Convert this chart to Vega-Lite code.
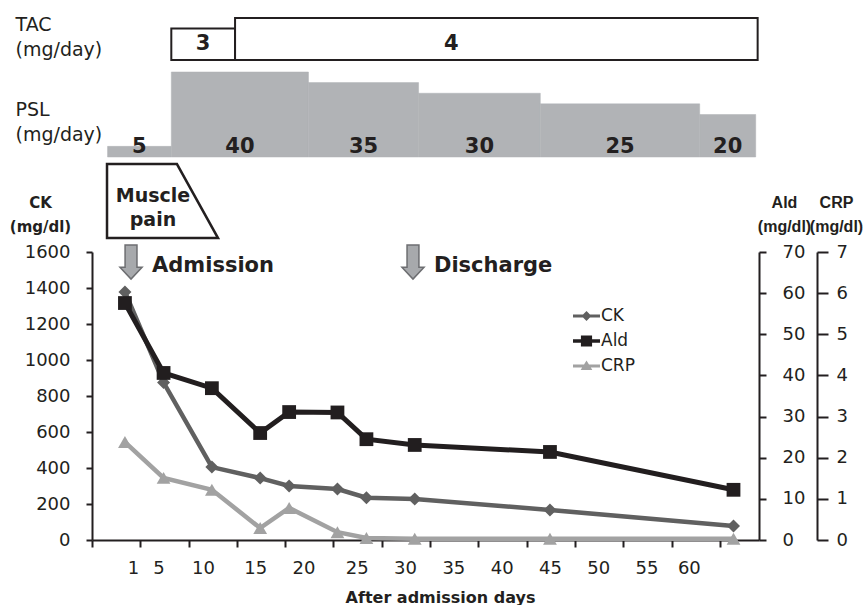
{
  "$schema": "https://vega.github.io/schema/vega-lite/v6.json",
  "width": 667,
  "height": 288,
  "autosize": {"type": "none"},
  "padding": {"left": 92, "top": 252, "right": 104, "bottom": 65},
  "background": "white",
  "config": {
    "font": "DejaVu Sans",
    "view": {"stroke": null},
    "text": {"font": "DejaVu Sans", "color": "#231f20"},
    "axis": {"labelFont": "DejaVu Sans", "titleFont": "DejaVu Sans", "labelColor": "#231f20", "titleColor": "#231f20", "domainColor": "#231f20", "tickColor": "#231f20", "grid": false, "labelFlush": false, "labelOverlap": false}
  },
  "datasets": {
    "labs": [
      {"day": 1, "series": "CK", "value": 1378}, {"day": 5, "series": "CK", "value": 875}, {"day": 10, "series": "CK", "value": 405}, {"day": 15, "series": "CK", "value": 344}, {"day": 18, "series": "CK", "value": 300}, {"day": 23, "series": "CK", "value": 283}, {"day": 26, "series": "CK", "value": 235}, {"day": 31, "series": "CK", "value": 228}, {"day": 45, "series": "CK", "value": 167}, {"day": 64, "series": "CK", "value": 78},
      {"day": 1, "series": "Ald", "value": 57.6}, {"day": 5, "series": "Ald", "value": 40.6}, {"day": 10, "series": "Ald", "value": 36.9}, {"day": 15, "series": "Ald", "value": 26.0}, {"day": 18, "series": "Ald", "value": 31.1}, {"day": 23, "series": "Ald", "value": 31.0}, {"day": 26, "series": "Ald", "value": 24.5}, {"day": 31, "series": "Ald", "value": 23.1}, {"day": 45, "series": "Ald", "value": 21.4}, {"day": 64, "series": "Ald", "value": 12.2},
      {"day": 1, "series": "CRP", "value": 2.38}, {"day": 5, "series": "CRP", "value": 1.51}, {"day": 10, "series": "CRP", "value": 1.22}, {"day": 15, "series": "CRP", "value": 0.29}, {"day": 18, "series": "CRP", "value": 0.78}, {"day": 23, "series": "CRP", "value": 0.19}, {"day": 26, "series": "CRP", "value": 0.05}, {"day": 31, "series": "CRP", "value": 0.03}, {"day": 45, "series": "CRP", "value": 0.03}, {"day": 64, "series": "CRP", "value": 0.03}
    ],
    "psl": [
      {"start": -0.8, "end": 5.8, "dose": 5}, {"start": 5.8, "end": 20, "dose": 40}, {"start": 20, "end": 31.4, "dose": 35}, {"start": 31.4, "end": 44, "dose": 30}, {"start": 44, "end": 60.5, "dose": 25}, {"start": 60.5, "end": 66.3, "dose": 20}
    ],
    "tac": [
      {"start": 5.8, "end": 12.4, "dose": 3}, {"start": 12.4, "end": 66.5, "dose": 4}
    ],
    "events": [
      {"event": "Admission", "day": 1.63}, {"event": "Discharge", "day": 30.82}
    ]
  },
  "layer": [
    {
      "data": {"name": "psl"},
      "mark": {"type": "rect", "fill": "#b1b3b6", "stroke": "#b1b3b6", "strokeWidth": 0.5},
      "encoding": {
        "x": {"field": "start", "type": "quantitative", "scale": {"domain": [-2.41, 66.64], "nice": false, "zero": false}, "axis": null},
        "x2": {"field": "end"},
        "y": {"field": "dose", "type": "quantitative", "scale": {"domain": [-180.24, -44.71], "nice": false, "zero": false},
          "axis": {"orient": "left", "labels": false, "ticks": false, "domain": false, "grid": false, "title": ["PSL", "(mg/day)"], "titleAngle": 0, "titleAlign": "left", "titleBaseline": "alphabetic", "titleX": -77, "titleY": -137, "titleFontSize": 19, "titleFontWeight": "normal", "titleLineHeight": 25}},
        "y2": {"datum": 0}
      }
    },
    {
      "data": {"name": "psl"},
      "transform": [{"fold": ["start", "end"], "as": ["k", "v"]}],
      "mark": {"type": "text", "fontWeight": "bold", "fontSize": 21, "baseline": "alphabetic", "align": "center", "dy": -4, "color": "#231f20"},
      "encoding": {
        "x": {"field": "v", "aggregate": "mean", "type": "quantitative", "scale": {"domain": [-2.41, 66.64], "nice": false, "zero": false}, "axis": null},
        "y": {"datum": 0, "type": "quantitative", "scale": {"domain": [-180.24, -44.71], "nice": false, "zero": false}, "axis": null},
        "text": {"field": "dose", "type": "nominal"}
      }
    },
    {
      "data": {"name": "tac"},
      "mark": {"type": "rect", "fill": "white", "stroke": "#231f20", "strokeWidth": 2},
      "encoding": {
        "x": {"field": "start", "type": "quantitative", "scale": {"domain": [-2.41, 66.64], "nice": false, "zero": false}, "axis": null},
        "x2": {"field": "end"},
        "y": {"field": "dose", "type": "quantitative", "scale": {"domain": [-45.71, -18.29], "nice": false, "zero": false},
          "axis": {"orient": "left", "labels": false, "ticks": false, "domain": false, "grid": false, "title": ["TAC", "(mg/day)"], "titleAngle": 0, "titleAlign": "left", "titleBaseline": "alphabetic", "titleX": -77, "titleY": -222, "titleFontSize": 19, "titleFontWeight": "normal", "titleLineHeight": 25}},
        "y2": {"datum": 0}
      }
    },
    {
      "data": {"values": [{}]},
      "mark": {"type": "text", "fontWeight": "bold", "fontSize": 21, "baseline": "alphabetic", "align": "center", "dy": -10, "color": "#231f20"},
      "encoding": {
        "x": {"datum": 9.1, "type": "quantitative", "scale": {"domain": [-2.41, 66.64], "nice": false, "zero": false}, "axis": null},
        "y": {"datum": 0, "type": "quantitative", "scale": {"domain": [-45.71, -18.29], "nice": false, "zero": false}, "axis": null},
        "text": {"value": "3"}
      }
    },
    {
      "data": {"values": [{}]},
      "mark": {"type": "text", "fontWeight": "bold", "fontSize": 21, "baseline": "alphabetic", "align": "center", "dy": -10, "color": "#231f20"},
      "encoding": {
        "x": {"datum": 34.8, "type": "quantitative", "scale": {"domain": [-2.41, 66.64], "nice": false, "zero": false}, "axis": null},
        "y": {"datum": 0, "type": "quantitative", "scale": {"domain": [-45.71, -18.29], "nice": false, "zero": false}, "axis": null},
        "text": {"value": "4"}
      }
    },
    {
      "data": {"name": "labs"},
      "transform": [{"filter": "datum.series === 'CRP'"}],
      "mark": {"type": "line", "strokeWidth": 4.5},
      "encoding": {
        "x": {"field": "day", "type": "quantitative", "scale": {"domain": [-2.41, 66.64], "nice": false, "zero": false}, "axis": null},
        "y": {"field": "value", "type": "quantitative", "scale": {"domain": [0, 7], "nice": false},
          "axis": {"orient": "right", "offset": 58, "values": [0, 1, 2, 3, 4, 5, 6, 7], "format": "d", "tickSize": 11, "tickWidth": 2, "domainWidth": 2, "labelFontSize": 18, "labelPadding": 8, "labelOverlap": false, "labelFlush": false, "title": ["CRP", "(mg/dl)"], "titleFont": "Liberation Sans", "titleAngle": 0, "titleAlign": "center", "titleBaseline": "alphabetic", "titleX": 19, "titleY": -45, "titleFontSize": 16, "titleFontWeight": "bold", "titleLineHeight": 24}},
        "color": {"field": "series", "type": "nominal", "scale": {"domain": ["CK", "Ald", "CRP"], "range": ["#606060", "#221e1f", "#a2a2a2"]}, "legend": null}
      }
    },
    {
      "data": {"name": "labs"},
      "transform": [{"filter": "datum.series === 'CRP'"}],
      "mark": {"type": "point", "shape": "triangle-up", "filled": true, "opacity": 1, "size": 190},
      "encoding": {
        "x": {"field": "day", "type": "quantitative", "scale": {"domain": [-2.41, 66.64], "nice": false, "zero": false}, "axis": null},
        "y": {"field": "value", "type": "quantitative", "scale": {"domain": [0, 7], "nice": false}, "axis": null},
        "color": {"field": "series", "type": "nominal", "legend": null}
      }
    },
    {
      "data": {"name": "labs"},
      "transform": [{"filter": "datum.series === 'CK'"}],
      "mark": {"type": "line", "strokeWidth": 4.5},
      "encoding": {
        "x": {"field": "day", "type": "quantitative", "scale": {"domain": [-2.41, 66.64], "nice": false, "zero": false},
          "axis": {
            "orient": "bottom",
            "values": [-2.41, 1, 2.59, 5, 7.59, 10, 12.59, 15, 17.59, 20, 22.59, 25, 27.59, 30, 32.59, 35, 37.59, 40, 42.59, 45, 47.59, 50, 52.59, 55, 57.59, 60, 62.59],
            "labelExpr": "datum.value == floor(datum.value) ? datum.label : ''",
            "tickOpacity": {"condition": {"test": "datum.value != floor(datum.value)", "value": 1}, "value": 0},
            "labelOffset": {"condition": [{"test": "datum.value == 1", "value": 8}, {"test": "datum.value == 10", "value": -9}, {"test": "datum.value == 5 || datum.value == 15 || datum.value == 20", "value": -5}, {"test": "datum.value == 60", "value": -6}], "value": 0},
            "tickSize": 7, "tickWidth": 2, "domainWidth": 2, "labelFontSize": 18, "labelPadding": 12, "labelOverlap": false, "labelFlush": false,
            "title": "After admission days", "titleFontSize": 16, "titleFontWeight": "bold", "titleX": 348, "titleY": 62, "titleAlign": "center", "titleBaseline": "alphabetic"
          }},
        "y": {"field": "value", "type": "quantitative", "scale": {"domain": [0, 1600], "nice": false},
          "axis": {"orient": "left", "values": [0, 200, 400, 600, 800, 1000, 1200, 1400, 1600], "format": "d", "tickSize": 6, "tickWidth": 2, "domainWidth": 2, "labelFontSize": 18, "labelPadding": 16, "labelOverlap": false, "labelFlush": false, "title": ["CK", "(mg/dl)"], "titleAngle": 0, "titleAlign": "center", "titleBaseline": "alphabetic", "titleX": -52, "titleY": -45, "titleFontSize": 15, "titleFontWeight": "bold", "titleLineHeight": 24}},
        "color": {"field": "series", "type": "nominal",
          "legend": {
            "orient": "none", "legendX": 485.5, "legendY": 55, "title": null, "padding": 0,
            "symbolSize": 324, "labelFontSize": 17, "labelFont": "DejaVu Sans", "labelColor": "#231f20", "labelOffset": 5.5, "rowPadding": 8,
            "encode": {"symbols": {"update": {
              "shape": {"signal": "datum.value === 'CK' ? 'M-1.5,-0.17H1.5V0.17H-1.5Z M0,-0.55L0.55,0L0,0.55L-0.55,0Z' : (datum.value === 'Ald' ? 'M-1.5,-0.2H1.5V0.2H-1.5Z M-0.62,-0.62H0.62V0.62H-0.62Z' : 'M-1.5,-0.17H1.5V0.17H-1.5Z M0,-0.62L0.65,0.45L-0.65,0.45Z')"},
              "fill": {"scale": "color", "field": "value"},
              "stroke": {"value": "transparent"},
              "strokeWidth": {"value": 0},
              "opacity": {"value": 1}
            }}}
          }}
      }
    },
    {
      "data": {"name": "labs"},
      "transform": [{"filter": "datum.series === 'CK'"}],
      "mark": {"type": "point", "shape": "diamond", "filled": true, "opacity": 1, "size": 170},
      "encoding": {
        "x": {"field": "day", "type": "quantitative", "scale": {"domain": [-2.41, 66.64], "nice": false, "zero": false}, "axis": null},
        "y": {"field": "value", "type": "quantitative", "scale": {"domain": [0, 1600], "nice": false}, "axis": null},
        "color": {"field": "series", "type": "nominal", "legend": null}
      }
    },
    {
      "data": {"values": [{}]},
      "mark": {"type": "point", "shape": "M-1,-0.667L0.26,-0.667L1,0.667L-1,0.667Z", "size": 12321, "filled": true, "fill": "white", "stroke": "#231f20", "strokeWidth": 2.5, "opacity": 1},
      "encoding": {
        "x": {"datum": 4.89, "type": "quantitative", "scale": {"domain": [-2.41, 66.64], "nice": false, "zero": false}, "axis": null},
        "y": {"datum": 1883, "type": "quantitative", "scale": {"domain": [0, 1600], "nice": false}, "axis": null}
      }
    },
    {
      "data": {"values": [{}]},
      "mark": {"type": "text", "fontWeight": "bold", "fontSize": 19, "align": "center", "baseline": "alphabetic", "lineHeight": 24, "color": "#231f20"},
      "encoding": {
        "x": {"datum": 3.9, "type": "quantitative", "scale": {"domain": [-2.41, 66.64], "nice": false, "zero": false}, "axis": null},
        "y": {"datum": 1878, "type": "quantitative", "scale": {"domain": [0, 1600], "nice": false}, "axis": null},
        "text": {"value": ["Muscle", "pain"]}
      }
    },
    {
      "data": {"name": "events"},
      "mark": {"type": "point", "shape": "M-0.35,-1L0.35,-1L0.35,0.3L0.65,0.3L0,1L-0.65,0.3L-0.35,0.3Z", "size": 1156, "filled": true, "fill": "#a7a9ac", "stroke": "#6d6e71", "strokeWidth": 1.5, "opacity": 1},
      "encoding": {
        "x": {"field": "day", "type": "quantitative", "scale": {"domain": [-2.41, 66.64], "nice": false, "zero": false}, "axis": null},
        "y": {"datum": 1544, "type": "quantitative", "scale": {"domain": [0, 1600], "nice": false}, "axis": null}
      }
    },
    {
      "data": {"name": "events"},
      "mark": {"type": "text", "fontWeight": "bold", "fontSize": 21, "align": "left", "baseline": "alphabetic", "dx": 21, "color": "#231f20"},
      "encoding": {
        "x": {"field": "day", "type": "quantitative", "scale": {"domain": [-2.41, 66.64], "nice": false, "zero": false}, "axis": null},
        "y": {"datum": 1489, "type": "quantitative", "scale": {"domain": [0, 1600], "nice": false}, "axis": null},
        "text": {"field": "event", "type": "nominal"}
      }
    },
    {
      "data": {"name": "labs"},
      "transform": [{"filter": "datum.series === 'Ald'"}],
      "mark": {"type": "line", "strokeWidth": 5},
      "encoding": {
        "x": {"field": "day", "type": "quantitative", "scale": {"domain": [-2.41, 66.64], "nice": false, "zero": false}, "axis": null},
        "y": {"field": "value", "type": "quantitative", "scale": {"domain": [0, 70], "nice": false},
          "axis": {"orient": "right", "values": [0, 10, 20, 30, 40, 50, 60, 70], "format": "d", "tickSize": 7, "tickWidth": 2, "domainWidth": 2, "labelFontSize": 18, "labelPadding": 16, "labelOverlap": false, "labelFlush": false, "title": ["Ald", "(mg/dl)"], "titleFont": "Liberation Sans", "titleAngle": 0, "titleAlign": "center", "titleBaseline": "alphabetic", "titleX": 25, "titleY": -45, "titleFontSize": 16, "titleFontWeight": "bold", "titleLineHeight": 24}},
        "color": {"field": "series", "type": "nominal", "legend": null}
      }
    },
    {
      "data": {"name": "labs"},
      "transform": [{"filter": "datum.series === 'Ald'"}],
      "mark": {"type": "point", "shape": "square", "filled": true, "opacity": 1, "size": 190},
      "encoding": {
        "x": {"field": "day", "type": "quantitative", "scale": {"domain": [-2.41, 66.64], "nice": false, "zero": false}, "axis": null},
        "y": {"field": "value", "type": "quantitative", "scale": {"domain": [0, 70], "nice": false}, "axis": null},
        "color": {"field": "series", "type": "nominal", "legend": null}
      }
    }
  ],
  "resolve": {
    "scale": {"y": "independent"},
    "axis": {"x": "independent", "y": "independent"},
    "legend": {"color": "independent"}
  }
}
